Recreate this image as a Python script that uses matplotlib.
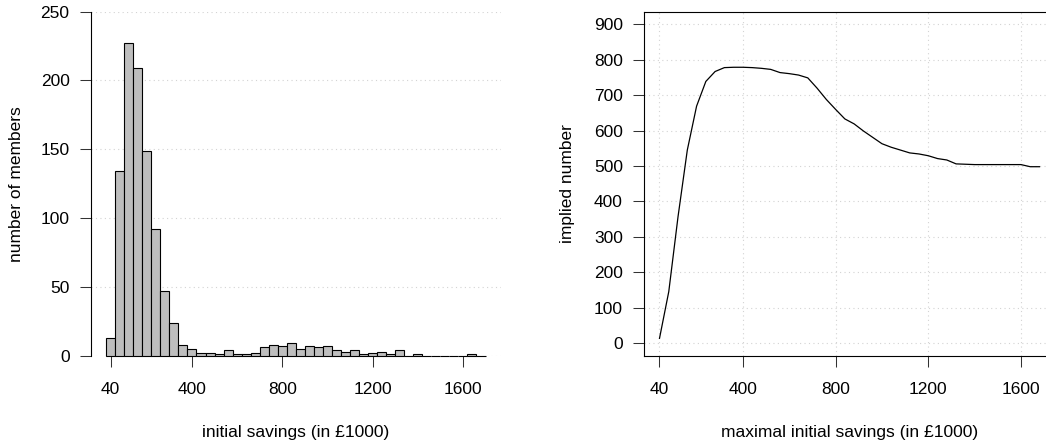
import numpy as np
import matplotlib
matplotlib.use("Agg")
import matplotlib.pyplot as plt

plt.rcParams['font.family'] = ['Liberation Sans', 'DejaVu Sans']

# --------------------------
# Data
# --------------------------
# histogram: bins of width 40 (left edges), counts per bin
bin_left = [20, 60, 100, 140, 180, 220, 260, 300, 340, 380, 420, 460, 500, 540,
            580, 620, 660, 700, 740, 780, 820, 860, 900, 940, 980, 1020, 1060,
            1100, 1140, 1180, 1220, 1260, 1300, 1340, 1380, 1420, 1460, 1500,
            1540, 1580, 1620, 1660]
counts = [13, 134, 227, 209, 149, 92, 47, 24, 8, 5, 2, 2, 1, 4,
          1, 1, 2, 6, 8, 7, 9, 5, 7, 6, 7, 4, 3,
          4, 1, 2, 3, 1, 4, 0, 1, 0, 0, 0,
          0, 0, 1, 0]

# implied number vs maximal initial savings
max_savings = [40, 80, 120, 160, 200, 240, 280, 320, 360, 400, 440, 480, 520,
               560, 600, 640, 680, 720, 760, 800, 840, 880, 920, 960, 1000,
               1040, 1080, 1120, 1160, 1200, 1240, 1280, 1320, 1360, 1400,
               1440, 1480, 1520, 1560, 1600, 1640, 1680]
implied = [13, 145, 357, 545, 669, 739, 767, 778, 779, 779, 778, 776, 773,
           764, 761, 757, 749, 720, 688, 660, 633, 619, 599, 581, 563,
           553, 545, 537, 534, 529, 521, 517, 506, 505, 504,
           504, 504, 504, 504, 504, 498, 498]

x_ticks = [40, 400, 800, 1200, 1600]
hist_yticks = [0, 50, 100, 150, 200, 250]
line_yticks = [0, 100, 200, 300, 400, 500, 600, 700, 800, 900]

W, H = 1046, 446
fs = 12.5
grid_kw = dict(linestyle=(0, (1, 3)), color='#D3D3D3', linewidth=0.8)

fig = plt.figure(figsize=(W / 100, H / 100), dpi=100)

# --------------------------
# Left: histogram
# --------------------------
ax1 = fig.add_axes([91 / W, 1 - 355.7 / H, (500.7 - 91) / W, 344 / H])
ax1.bar(bin_left, counts, width=40, align='edge', color='#BEBEBE',
        edgecolor='black', linewidth=0.8, zorder=3, clip_on=False)
ax1.set_xlim(-47.2, 1767.2)
ax1.set_ylim(0, 250)
ax1.set_xticks(x_ticks)
ax1.set_yticks(hist_yticks)
ax1.yaxis.grid(True, **grid_kw)
ax1.set_axisbelow(True)
for s in ['top', 'right', 'bottom']:
    ax1.spines[s].set_visible(False)
ax1.spines['left'].set_linewidth(0.8)
ax1.tick_params(axis='both', direction='out', length=7.9, width=0.75,
                labelsize=fs, color='#333333')
ax1.tick_params(axis='x', pad=11)
ax1.tick_params(axis='y', pad=7.5)
ax1.set_xlabel('initial savings (in £1000)', fontsize=fs)
ax1.xaxis.label.set_va('center')
ax1.xaxis.set_label_coords(0.5, -0.222)
ax1.set_ylabel('number of members', fontsize=fs)
ax1.yaxis.label.set_va('center')
ax1.yaxis.set_label_coords(-0.181, 0.5)

# --------------------------
# Right: implied number
# --------------------------
ax2 = fig.add_axes([644.3 / W, 1 - 355.7 / H, (1054.7 - 644.3) / W, 344 / H])
ax2.plot(max_savings, implied, color='black', linewidth=0.9)
ax2.set_xlim(-25.6, 1745.6)
ax2.set_ylim(-36, 936)
ax2.set_xticks(x_ticks)
ax2.set_yticks(line_yticks)
ax2.grid(True, **grid_kw)
ax2.set_axisbelow(True)
for s in ax2.spines.values():
    s.set_linewidth(0.8)
ax2.tick_params(axis='both', direction='out', length=7.9, width=0.75,
                labelsize=fs, color='#333333')
ax2.tick_params(axis='x', pad=11)
ax2.tick_params(axis='y', pad=7.5)
ax2.set_xlabel('maximal initial savings (in £1000)', fontsize=fs)
ax2.xaxis.label.set_va('center')
ax2.xaxis.set_label_coords(0.5, -0.222)
ax2.set_ylabel('implied number', fontsize=fs)
ax2.yaxis.label.set_va('center')
ax2.yaxis.set_label_coords(-0.187, 0.5)

fig.savefig('out.png', dpi=100)
